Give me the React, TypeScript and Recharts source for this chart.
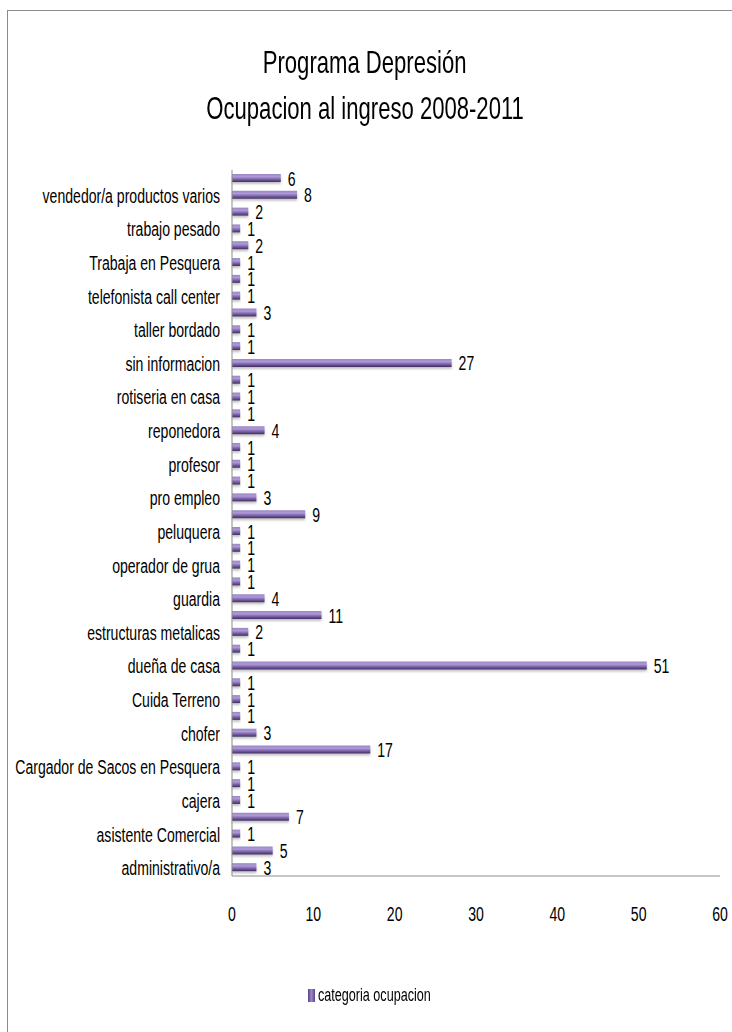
import React from "react";
import { BarChart, Bar, XAxis, YAxis, LabelList } from "recharts";

// Categories from bottom to top ("" = category whose label is not shown in the original)
const categories: string[] = [
  "administrativo/a", "",
  "asistente Comercial", "",
  "cajera", "",
  "Cargador de Sacos en Pesquera", "",
  "chofer", "",
  "Cuida Terreno", "",
  "dueña de casa", "",
  "estructuras metalicas", "",
  "guardia", "",
  "operador de grua", "",
  "peluquera", "",
  "pro empleo", "",
  "profesor", "",
  "reponedora", "",
  "rotiseria en casa", "",
  "sin informacion", "",
  "taller bordado", "",
  "telefonista call center", "",
  "Trabaja en Pesquera", "",
  "trabajo pesado", "",
  "vendedor/a productos varios", "",
];

const values: number[] = [
  3, 5,
  1, 7,
  1, 1,
  1, 17,
  3, 1,
  1, 1,
  51, 1,
  2, 11,
  4, 1,
  1, 1,
  1, 9,
  3, 1,
  1, 1,
  4, 1,
  1, 1,
  27, 1,
  1, 3,
  1, 1,
  1, 2,
  1, 2,
  8, 6,
];

const xTicks: number[] = [0, 10, 20, 30, 40, 50, 60];
const titleLines: string[] = ["Programa Depresión", "Ocupacion al ingreso 2008-2011"];
const seriesName = "categoria ocupacion";

const data = categories.map((c, i) => ({ key: String(i), label: c, value: values[i] }));

const FONT = "'Liberation Sans', Arial, sans-serif";
const SX = 0.67;
const FS = 21;

const YTick = (props: any) => {
  const { x, y, payload } = props;
  const text = categories[Number(payload.value)];
  if (!text) return null;
  return (
    <text
      transform={`translate(${x},${y}) scale(${SX},1)`}
      x={0}
      y={0}
      dy="0.36em"
      textAnchor="end"
      fontSize={FS}
      fill="#000"
      fontFamily={FONT}
    >
      {text}
    </text>
  );
};

const XTick = (props: any) => {
  const { x, y, payload } = props;
  return (
    <text
      transform={`translate(${x},${y + 7}) scale(${SX},1)`}
      x={0}
      y={0}
      dy="0.36em"
      textAnchor="middle"
      fontSize={FS}
      fill="#000"
      fontFamily={FONT}
    >
      {payload.value}
    </text>
  );
};

const ValueLabel = (props: any) => {
  const { x, y, width, height, value } = props;
  const tx = Number(x) + Number(width) + 7;
  const ty = Number(y) + Number(height) / 2;
  return (
    <text
      transform={`translate(${tx},${ty}) scale(${SX},1)`}
      x={0}
      y={0}
      dy="0.36em"
      textAnchor="start"
      fontSize={FS}
      fill="#000"
      fontFamily={FONT}
    >
      {value}
    </text>
  );
};

export default function App() {
  return (
    <div
      style={{
        position: "absolute",
        left: 0,
        top: 0,
        width: 732,
        height: 1032,
        overflow: "hidden",
        background: "#fff",
        fontFamily: FONT,
      }}
    >
      <svg width={0} height={0} style={{ position: "absolute" }}>
        <defs>
          <linearGradient id="barGrad" x1="0" y1="0" x2="0" y2="1">
            <stop offset="0%" stopColor="#9a86c4" />
            <stop offset="35%" stopColor="#ad9ad8" />
            <stop offset="65%" stopColor="#7d63a8" />
            <stop offset="100%" stopColor="#3f2e60" />
          </linearGradient>
          <filter id="barShadow" x="-5%" y="-50%" width="110%" height="250%">
            <feDropShadow dx="0" dy="2" stdDeviation="1.3" floodColor="#777" floodOpacity="0.45" />
          </filter>
        </defs>
      </svg>
      <div
        style={{
          position: "absolute",
          left: 7,
          top: 10,
          width: 800,
          height: 1100,
          border: "1.5px solid #8c8c8c",
          boxSizing: "border-box",
        }}
      />
      {titleLines.map((t, i) => (
        <div
          key={i}
          style={{
            position: "absolute",
            left: 0,
            width: 730,
            top: i === 0 ? 44 : 90,
            textAlign: "center",
            fontSize: 32,
            lineHeight: "36px",
            color: "#000",
          }}
        >
          <span style={{ display: "inline-block", transform: "scale(0.69,1)", whiteSpace: "nowrap" }}>{t}</span>
        </div>
      ))}
      <div style={{ position: "absolute", left: 0, top: 0 }}>
        <BarChart
          width={732}
          height={1032}
          data={data}
          layout="vertical"
          margin={{ top: 170, right: 12, bottom: 126, left: 8 }}
          barSize={8}
        >
          <XAxis
            type="number"
            domain={[0, 60]}
            ticks={xTicks}
            axisLine={{ stroke: "#8c8c8c", strokeWidth: 1 }}
            tickLine={false}
            tickMargin={24}
            height={30}
            tick={<XTick />}
            interval={0}
          />
          <YAxis
            type="category"
            dataKey="key"
            reversed
            width={224}
            interval={0}
            axisLine={{ stroke: "#8c8c8c", strokeWidth: 1 }}
            tickLine={false}
            tickMargin={6}
            tick={<YTick />}
          />
          <Bar
            dataKey="value"
            name={seriesName}
            fill="url(#barGrad)"
            isAnimationActive={false}
            style={{ filter: "url(#barShadow)" }}
          >
            <LabelList dataKey="value" content={<ValueLabel />} />
          </Bar>
        </BarChart>
      </div>
      <div
        style={{
          position: "absolute",
          left: 308,
          top: 985,
          display: "flex",
          alignItems: "center",
          fontSize: 18,
          color: "#000",
        }}
      >
        <span
          style={{
            display: "inline-block",
            width: 7,
            height: 13,
            background: "linear-gradient(to right, #5b4486, #9a86c6 50%, #5b4486)",
            marginRight: 3,
          }}
        />
        <span style={{ transform: "scale(0.7,1)", transformOrigin: "left center", display: "inline-block", whiteSpace: "nowrap" }}>
          {seriesName}
        </span>
      </div>
    </div>
  );
}
